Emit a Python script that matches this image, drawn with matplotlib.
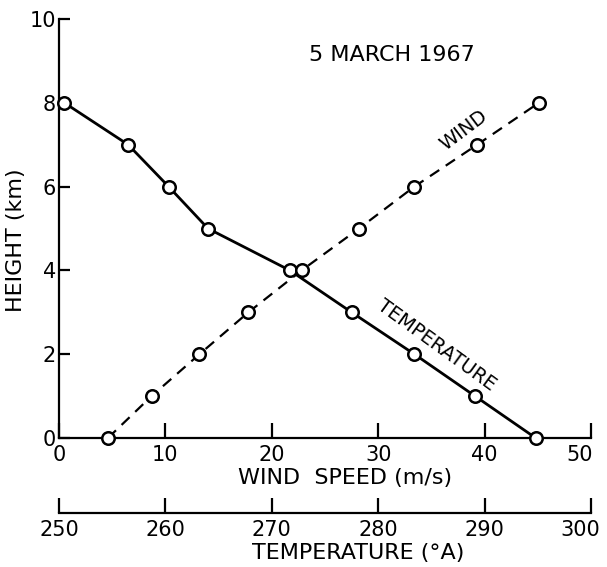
import matplotlib
matplotlib.use("Agg")
import matplotlib.pyplot as plt
from matplotlib.transforms import ScaledTranslation

# heights (km) of the sounding levels
height = [0, 1, 2, 3, 4, 5, 6, 7, 8]
# wind speed (m/s) at each level
wind_speed = [4.6, 8.7, 13.2, 17.8, 22.8, 28.2, 33.4, 39.3, 45.1]
# temperature (deg A) at each level
temperature = [294.8, 289.1, 283.4, 277.5, 271.7, 264.0, 260.3, 256.5, 250.5]

wind_ticks = [0, 10, 20, 30, 40, 50]
temp_ticks = [250, 260, 270, 280, 290, 300]
height_ticks = [0, 2, 4, 6, 8, 10]

T0 = 250  # temperature scale starts where wind speed is 0


def t2w(t):
    return t - T0


def w2t(w):
    return w + T0


plt.rcParams['font.family'] = ['DejaVu Sans']

fig = plt.figure(figsize=(6.07, 5.67), dpi=100)
ax = fig.add_axes([0.0972, 0.2275, 0.8765, 0.739])

# temperature curve, plotted on the wind speed scale
ax.plot([t2w(t) for t in temperature], height, color='black', lw=2.0,
        marker='o', ms=9, mfc='white', mec='black', mew=1.8, clip_on=False, zorder=3)
# wind curve
ax.plot(wind_speed, height, color='black', lw=1.6, linestyle=(0, (5, 3.5)),
        marker='o', ms=9, mfc='white', mec='black', mew=1.8, clip_on=False, zorder=3)

ax.set_xlim(0, 50)
ax.set_ylim(0, 10)
ax.set_xticks(wind_ticks)
ax.set_yticks(height_ticks)
for s in ['top', 'right']:
    ax.spines[s].set_visible(False)
for s in ['left', 'bottom']:
    ax.spines[s].set_linewidth(1.6)
ax.tick_params(axis='x', direction='in', length=11, width=1.6, pad=5, labelsize=15)
ax.tick_params(axis='y', direction='in', length=8, width=1.6, pad=2, labelsize=15)

ax.set_xlabel('WIND  SPEED (m/s)', fontsize=16)
ax.xaxis.set_label_coords(0.538, -0.072)
ax.set_ylabel('HEIGHT (km)', fontsize=16)
ax.yaxis.set_label_coords(-0.062, 0.473)

# second scale for temperature below the wind speed axis
sec = ax.secondary_xaxis(-0.179, functions=(w2t, t2w))
sec.set_xticks(temp_ticks)
sec.spines['bottom'].set_linewidth(1.6)
sec.tick_params(axis='x', direction='in', length=11, width=1.6, pad=5, labelsize=15)
ax.text(0.562, -0.25, 'TEMPERATURE (°A)', transform=ax.transAxes,
        ha='center', va='top', fontsize=16)

# last labels sit a little left of their ticks, as in the original
shift = ScaledTranslation(-8 / 72, 0, fig.dpi_scale_trans)
for lbl in [ax.get_xticklabels()[-1], sec.get_xticklabels()[-1]]:
    lbl.set_transform(lbl.get_transform() + shift)

# annotations
ax.text(31.3, 9.14, '5 MARCH 1967', ha='center', va='center', fontsize=16)
ax.text(38.0, 7.35, 'WIND', ha='center', va='center', fontsize=14, rotation=37)
ax.text(35.5, 2.22, 'TEMPERATURE', ha='center', va='center', fontsize=14, rotation=-36)

fig.savefig('out.png', dpi=100, facecolor='white')
